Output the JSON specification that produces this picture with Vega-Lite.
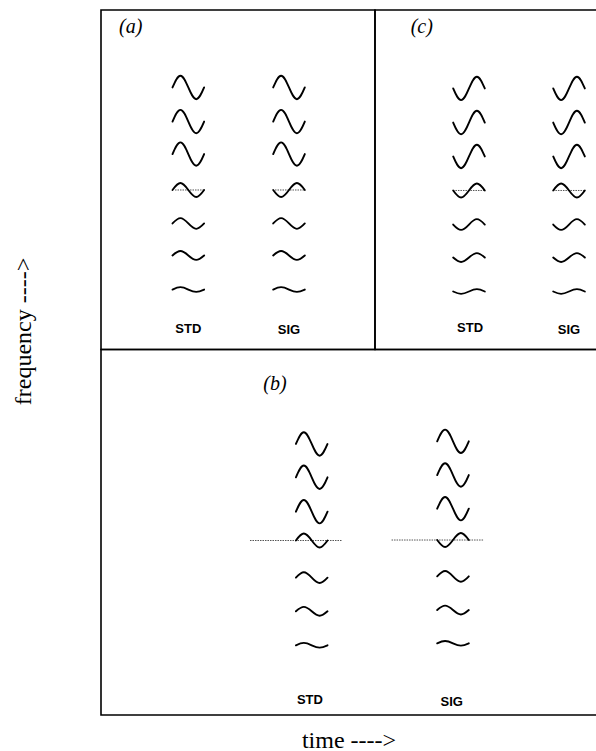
{
  "$schema": "https://vega.github.io/schema/vega-lite/v6.json",
  "width": 495,
  "height": 705,
  "autosize": {"type": "none"},
  "padding": {"left": 101, "top": 10, "right": 0, "bottom": 36},
  "background": "white",
  "config": {
    "view": {"stroke": null},
    "axis": {"domain": false, "ticks": false, "labels": false, "grid": false,
      "titleFont": "Liberation Serif", "titleFontSize": 24, "titleFontWeight": "normal", "titleColor": "black"},
    "axisX": {"titleBaseline": "middle", "titleY": 25, "titleAlign": "center"},
    "axisY": {"titleAngle": -90, "titleAlign": "center", "titleBaseline": "middle", "titleX": -78, "titleY": 321}
  },
  "datasets": {
    "panels": [
      {"panel": "a", "x0": 0, "x1": 55.35, "y0": 51.84, "y1": 100},
      {"panel": "c", "x0": 55.35, "x1": 101.5, "y0": 51.84, "y1": 100},
      {"panel": "b", "x0": 0, "x1": 101.5, "y0": 0, "y1": 51.84}
    ],
    "waves": [
      {"panel": "a", "signal": "STD", "row": 1, "t": 17.64, "f": 89.01, "glyph": "up-1"},
      {"panel": "a", "signal": "STD", "row": 2, "t": 17.64, "f": 84.18, "glyph": "up-1"},
      {"panel": "a", "signal": "STD", "row": 3, "t": 17.64, "f": 79.57, "glyph": "up-1"},
      {"panel": "a", "signal": "STD", "row": 4, "t": 17.64, "f": 74.47, "glyph": "up-4"},
      {"panel": "a", "signal": "STD", "row": 5, "t": 17.64, "f": 69.72, "glyph": "up-5"},
      {"panel": "a", "signal": "STD", "row": 6, "t": 17.64, "f": 65.18, "glyph": "up-6"},
      {"panel": "a", "signal": "STD", "row": 7, "t": 17.64, "f": 60.35, "glyph": "up-7"},
      {"panel": "a", "signal": "SIG", "row": 1, "t": 37.98, "f": 89.01, "glyph": "up-1"},
      {"panel": "a", "signal": "SIG", "row": 2, "t": 37.98, "f": 84.18, "glyph": "up-1"},
      {"panel": "a", "signal": "SIG", "row": 3, "t": 37.98, "f": 79.57, "glyph": "up-1"},
      {"panel": "a", "signal": "SIG", "row": 4, "t": 37.98, "f": 74.47, "glyph": "down-4"},
      {"panel": "a", "signal": "SIG", "row": 5, "t": 37.98, "f": 69.72, "glyph": "up-5"},
      {"panel": "a", "signal": "SIG", "row": 6, "t": 37.98, "f": 65.18, "glyph": "up-6"},
      {"panel": "a", "signal": "SIG", "row": 7, "t": 37.98, "f": 60.35, "glyph": "up-7"},
      {"panel": "c", "signal": "STD", "row": 1, "t": 74.34, "f": 88.87, "glyph": "down-1"},
      {"panel": "c", "signal": "STD", "row": 2, "t": 74.34, "f": 84.04, "glyph": "down-1"},
      {"panel": "c", "signal": "STD", "row": 3, "t": 74.34, "f": 79.22, "glyph": "down-1"},
      {"panel": "c", "signal": "STD", "row": 4, "t": 74.34, "f": 74.4, "glyph": "down-4"},
      {"panel": "c", "signal": "STD", "row": 5, "t": 74.34, "f": 69.57, "glyph": "down-5"},
      {"panel": "c", "signal": "STD", "row": 6, "t": 74.34, "f": 64.89, "glyph": "down-6"},
      {"panel": "c", "signal": "STD", "row": 7, "t": 74.34, "f": 60.07, "glyph": "down-7"},
      {"panel": "c", "signal": "SIG", "row": 1, "t": 94.55, "f": 88.87, "glyph": "down-1"},
      {"panel": "c", "signal": "SIG", "row": 2, "t": 94.55, "f": 84.04, "glyph": "down-1"},
      {"panel": "c", "signal": "SIG", "row": 3, "t": 94.55, "f": 79.22, "glyph": "down-1"},
      {"panel": "c", "signal": "SIG", "row": 4, "t": 94.55, "f": 74.4, "glyph": "up-4"},
      {"panel": "c", "signal": "SIG", "row": 5, "t": 94.55, "f": 69.57, "glyph": "down-5"},
      {"panel": "c", "signal": "SIG", "row": 6, "t": 94.55, "f": 64.89, "glyph": "down-6"},
      {"panel": "c", "signal": "SIG", "row": 7, "t": 94.55, "f": 60.07, "glyph": "down-7"},
      {"panel": "b", "signal": "STD", "row": 1, "t": 42.57, "f": 38.44, "glyph": "up-1"},
      {"panel": "b", "signal": "STD", "row": 2, "t": 42.57, "f": 33.72, "glyph": "up-1"},
      {"panel": "b", "signal": "STD", "row": 3, "t": 42.57, "f": 28.84, "glyph": "up-1"},
      {"panel": "b", "signal": "STD", "row": 4, "t": 42.57, "f": 24.75, "glyph": "up-4"},
      {"panel": "b", "signal": "STD", "row": 5, "t": 42.57, "f": 19.48, "glyph": "up-5"},
      {"panel": "b", "signal": "STD", "row": 6, "t": 42.57, "f": 14.71, "glyph": "up-6"},
      {"panel": "b", "signal": "STD", "row": 7, "t": 42.57, "f": 9.89, "glyph": "up-7"},
      {"panel": "b", "signal": "SIG", "row": 1, "t": 71.11, "f": 38.82, "glyph": "up-1"},
      {"panel": "b", "signal": "SIG", "row": 2, "t": 71.11, "f": 34.04, "glyph": "up-1"},
      {"panel": "b", "signal": "SIG", "row": 3, "t": 71.11, "f": 29.26, "glyph": "up-1"},
      {"panel": "b", "signal": "SIG", "row": 4, "t": 71.11, "f": 24.82, "glyph": "down-4"},
      {"panel": "b", "signal": "SIG", "row": 5, "t": 71.11, "f": 19.67, "glyph": "up-5"},
      {"panel": "b", "signal": "SIG", "row": 6, "t": 71.11, "f": 14.89, "glyph": "up-6"},
      {"panel": "b", "signal": "SIG", "row": 7, "t": 71.11, "f": 10.17, "glyph": "up-7"}
    ],
    "baselines": [
      {"panel": "a", "signal": "STD", "t1": 14.95, "t2": 21.0, "f": 74.47},
      {"panel": "a", "signal": "SIG", "t1": 35.15, "t2": 41.2, "f": 74.47},
      {"panel": "c", "signal": "STD", "t1": 71.1, "t2": 77.6, "f": 74.4},
      {"panel": "c", "signal": "SIG", "t1": 91.3, "t2": 97.8, "f": 74.4},
      {"panel": "b", "signal": "STD", "t1": 30.1, "t2": 48.6, "f": 24.75},
      {"panel": "b", "signal": "SIG", "t1": 58.7, "t2": 77.2, "f": 24.82}
    ],
    "columns": [
      {"panel": "a", "t": 17.64, "f": 54.7, "label": "STD"},
      {"panel": "a", "t": 37.98, "f": 54.6, "label": "SIG"},
      {"panel": "c", "t": 74.55, "f": 54.85, "label": "STD"},
      {"panel": "c", "t": 94.55, "f": 54.6, "label": "SIG"},
      {"panel": "b", "t": 42.2, "f": 2.13, "label": "STD"},
      {"panel": "b", "t": 70.85, "f": 1.89, "label": "SIG"}
    ],
    "tags": [
      {"t": 6.0, "f": 97.55, "label": "(a)"},
      {"t": 64.8, "f": 97.55, "label": "(c)"},
      {"t": 35.15, "f": 46.95, "label": "(b)"}
    ]
  },
  "layer": [
    {
      "data": {"name": "panels"},
      "mark": {"type": "rect", "filled": false, "stroke": "black", "strokeWidth": 1.6},
      "encoding": {
        "x": {"field": "x0", "type": "quantitative", "scale": {"domain": [0, 100]}, "axis": {"title": "time ---->"}},
        "x2": {"field": "x1"},
        "y": {"field": "y0", "type": "quantitative", "scale": {"domain": [0, 100]}, "axis": {"title": "frequency ---->"}},
        "y2": {"field": "y1"}
      }
    },
    {
      "data": {"name": "baselines"},
      "mark": {"type": "rule", "color": "#555555", "strokeWidth": 1, "strokeDash": [1.5, 1]},
      "encoding": {
        "x": {"field": "t1", "type": "quantitative", "scale": {"domain": [0, 100]}, "axis": {"title": "time ---->"}},
        "x2": {"field": "t2"},
        "y": {"field": "f", "type": "quantitative", "scale": {"domain": [0, 100]}, "axis": {"title": "frequency ---->"}}
      }
    },
    {
      "data": {"name": "waves"},
      "mark": {"type": "point", "filled": false, "stroke": "black", "strokeWidth": 1.9, "opacity": 1, "strokeCap": "round", "size": 1000},
      "encoding": {
        "x": {"field": "t", "type": "quantitative", "scale": {"domain": [0, 100]}, "axis": {"title": "time ---->"}},
        "y": {"field": "f", "type": "quantitative", "scale": {"domain": [0, 100]}, "axis": {"title": "frequency ---->"}},
        "shape": {"field": "glyph", "type": "nominal", "legend": null,
          "scale": {
            "domain": ["up-1", "up-4", "up-5", "up-6", "up-7", "down-1", "down-4", "down-5", "down-6", "down-7"],
            "range": [
              "M-1,0C-0.837,-0.379,-0.681,-0.74,-0.5,-0.74C-0.319,-0.74,-0.163,-0.379,0,0C0.163,0.379,0.319,0.74,0.5,0.74C0.681,0.74,0.837,0.379,1,0",
              "M-1,0C-0.837,-0.225,-0.681,-0.44,-0.5,-0.44C-0.319,-0.44,-0.163,-0.225,0,0C0.163,0.225,0.319,0.44,0.5,0.44C0.681,0.44,0.837,0.225,1,0",
              "M-1,0C-0.837,-0.174,-0.681,-0.34,-0.5,-0.34C-0.319,-0.34,-0.163,-0.174,0,0C0.163,0.174,0.319,0.34,0.5,0.34C0.681,0.34,0.837,0.174,1,0",
              "M-1,0C-0.837,-0.143,-0.681,-0.28,-0.5,-0.28C-0.319,-0.28,-0.163,-0.143,0,0C0.163,0.143,0.319,0.28,0.5,0.28C0.681,0.28,0.837,0.143,1,0",
              "M-1,0C-0.837,-0.077,-0.681,-0.15,-0.5,-0.15C-0.319,-0.15,-0.163,-0.077,0,0C0.163,0.077,0.319,0.15,0.5,0.15C0.681,0.15,0.837,0.077,1,0",
              "M-1,0C-0.837,0.379,-0.681,0.74,-0.5,0.74C-0.319,0.74,-0.163,0.379,0,0C0.163,-0.379,0.319,-0.74,0.5,-0.74C0.681,-0.74,0.837,-0.379,1,0",
              "M-1,0C-0.837,0.225,-0.681,0.44,-0.5,0.44C-0.319,0.44,-0.163,0.225,0,0C0.163,-0.225,0.319,-0.44,0.5,-0.44C0.681,-0.44,0.837,-0.225,1,0",
              "M-1,0C-0.837,0.174,-0.681,0.34,-0.5,0.34C-0.319,0.34,-0.163,0.174,0,0C0.163,-0.174,0.319,-0.34,0.5,-0.34C0.681,-0.34,0.837,-0.174,1,0",
              "M-1,0C-0.837,0.143,-0.681,0.28,-0.5,0.28C-0.319,0.28,-0.163,0.143,0,0C0.163,-0.143,0.319,-0.28,0.5,-0.28C0.681,-0.28,0.837,-0.143,1,0",
              "M-1,0C-0.837,0.077,-0.681,0.15,-0.5,0.15C-0.319,0.15,-0.163,0.077,0,0C0.163,-0.077,0.319,-0.15,0.5,-0.15C0.681,-0.15,0.837,-0.077,1,0"
            ]
          }
        }
      }
    },
    {
      "data": {"name": "columns"},
      "mark": {"type": "text", "font": "Liberation Sans", "fontWeight": "bold", "fontSize": 13, "color": "black", "align": "center", "baseline": "middle"},
      "encoding": {
        "x": {"field": "t", "type": "quantitative", "scale": {"domain": [0, 100]}, "axis": {"title": "time ---->"}},
        "y": {"field": "f", "type": "quantitative", "scale": {"domain": [0, 100]}, "axis": {"title": "frequency ---->"}},
        "text": {"field": "label"}
      }
    },
    {
      "data": {"name": "tags"},
      "mark": {"type": "text", "font": "Liberation Serif", "fontStyle": "italic", "fontSize": 20, "color": "black", "align": "center", "baseline": "middle"},
      "encoding": {
        "x": {"field": "t", "type": "quantitative", "scale": {"domain": [0, 100]}, "axis": {"title": "time ---->"}},
        "y": {"field": "f", "type": "quantitative", "scale": {"domain": [0, 100]}, "axis": {"title": "frequency ---->"}},
        "text": {"field": "label"}
      }
    }
  ]
}
